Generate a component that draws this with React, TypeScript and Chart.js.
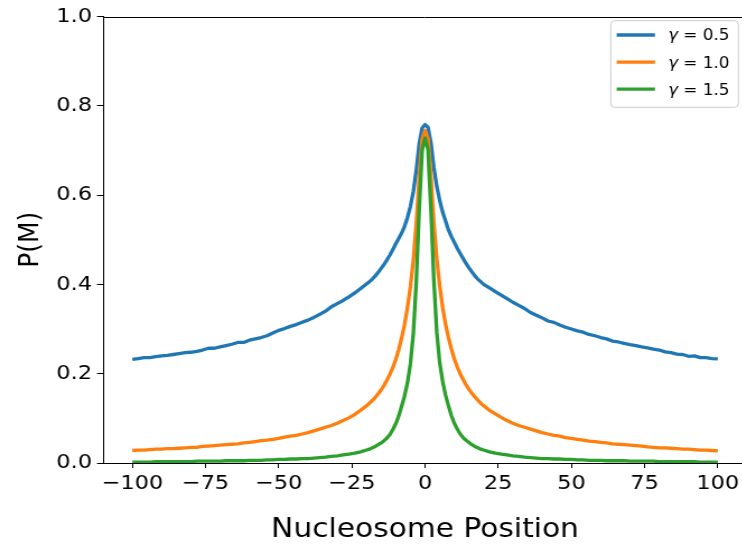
import React, { useEffect, useRef } from 'react';
import { Chart, registerables } from 'chart.js';

Chart.register(...registerables);

// Nucleosome positions (x) at which each curve is sampled
const positions = [
  -100, -98, -96, -94, -92, -90, -88, -86, -84, -82, -80, -78, -76, -74, -72, -70, -68, -66, -64, -62,
  -60, -58, -56, -54, -52, -50, -48, -46, -44, -42, -40, -38, -36, -34, -32, -30, -28, -26, -24, -22, -20,
  -19, -18, -17, -16, -15, -14, -13, -12, -11, -10, -9, -8, -7, -6, -5, -4, -3, -2, -1,
  0, 1, 2, 3, 4, 5, 6, 7, 8, 9, 10, 11, 12, 13, 14, 15, 16, 17, 18, 19,
  20, 22, 24, 26, 28, 30, 32, 34, 36, 38, 40, 42, 44, 46, 48, 50, 52, 54, 56, 58,
  60, 62, 64, 66, 68, 70, 72, 74, 76, 78, 80, 82, 84, 86, 88, 90, 92, 94, 96, 98, 100,
];

const gammaValues = [0.5, 1.0, 1.5];

// P(M), gamma = 0.5
const seriesGamma05 = [
  0.232, 0.234, 0.236, 0.236, 0.238, 0.240, 0.241, 0.243, 0.245, 0.247, 0.248, 0.250, 0.253, 0.257, 0.257, 0.260, 0.263, 0.266, 0.270, 0.270,
  0.275, 0.278, 0.281, 0.285, 0.291, 0.297, 0.301, 0.306, 0.310, 0.315, 0.320, 0.326, 0.333, 0.340, 0.350, 0.357, 0.364, 0.372, 0.381, 0.391, 0.401,
  0.406, 0.412, 0.419, 0.427, 0.436, 0.445, 0.455, 0.466, 0.478, 0.491, 0.503, 0.515, 0.530, 0.550, 0.575, 0.608, 0.655, 0.715, 0.750,
  0.758, 0.752, 0.718, 0.662, 0.620, 0.588, 0.562, 0.542, 0.522, 0.507, 0.494, 0.481, 0.469, 0.458, 0.447, 0.437, 0.428, 0.419, 0.412, 0.406,
  0.400, 0.392, 0.384, 0.376, 0.368, 0.360, 0.353, 0.346, 0.337, 0.331, 0.325, 0.318, 0.315, 0.309, 0.304, 0.300, 0.296, 0.293, 0.288, 0.285,
  0.281, 0.278, 0.273, 0.271, 0.268, 0.265, 0.263, 0.260, 0.258, 0.255, 0.253, 0.249, 0.247, 0.244, 0.243, 0.239, 0.240, 0.236, 0.236, 0.234, 0.233,
];

// P(M), gamma = 1.0
const seriesGamma10 = [
  0.028, 0.029, 0.029, 0.030, 0.031, 0.031, 0.032, 0.032, 0.033, 0.034, 0.035, 0.035, 0.037, 0.038, 0.039, 0.040, 0.041, 0.042, 0.043, 0.045,
  0.046, 0.048, 0.050, 0.051, 0.053, 0.055, 0.058, 0.060, 0.062, 0.065, 0.068, 0.072, 0.076, 0.080, 0.084, 0.089, 0.095, 0.101, 0.109, 0.118, 0.128,
  0.134, 0.140, 0.147, 0.155, 0.164, 0.174, 0.186, 0.199, 0.214, 0.232, 0.254, 0.280, 0.310, 0.348, 0.395, 0.455, 0.535, 0.640, 0.725,
  0.745, 0.727, 0.645, 0.538, 0.457, 0.397, 0.349, 0.311, 0.281, 0.255, 0.233, 0.215, 0.200, 0.187, 0.175, 0.165, 0.156, 0.148, 0.141, 0.134,
  0.128, 0.118, 0.110, 0.102, 0.095, 0.089, 0.084, 0.080, 0.076, 0.072, 0.068, 0.065, 0.062, 0.060, 0.057, 0.055, 0.053, 0.051, 0.049, 0.048,
  0.046, 0.045, 0.043, 0.042, 0.041, 0.040, 0.039, 0.038, 0.036, 0.035, 0.034, 0.034, 0.033, 0.032, 0.031, 0.031, 0.030, 0.029, 0.029, 0.028, 0.027,
];

// P(M), gamma = 1.5
const seriesGamma15 = [
  0.002, 0.002, 0.002, 0.002, 0.003, 0.003, 0.003, 0.003, 0.003, 0.003, 0.003, 0.004, 0.004, 0.004, 0.004, 0.004, 0.005, 0.005, 0.005, 0.005,
  0.006, 0.006, 0.006, 0.007, 0.007, 0.008, 0.008, 0.009, 0.009, 0.010, 0.010, 0.011, 0.012, 0.013, 0.015, 0.016, 0.018, 0.020, 0.022, 0.025, 0.029,
  0.031, 0.034, 0.037, 0.041, 0.045, 0.050, 0.056, 0.064, 0.075, 0.088, 0.105, 0.127, 0.150, 0.180, 0.222, 0.290, 0.405, 0.565, 0.700,
  0.728, 0.702, 0.568, 0.410, 0.293, 0.225, 0.183, 0.152, 0.128, 0.106, 0.089, 0.076, 0.065, 0.057, 0.051, 0.046, 0.041, 0.037, 0.034, 0.031,
  0.029, 0.025, 0.022, 0.020, 0.018, 0.016, 0.015, 0.013, 0.012, 0.011, 0.010, 0.010, 0.009, 0.009, 0.008, 0.008, 0.007, 0.007, 0.006, 0.006,
  0.006, 0.005, 0.005, 0.005, 0.005, 0.004, 0.004, 0.004, 0.004, 0.004, 0.003, 0.003, 0.003, 0.003, 0.003, 0.003, 0.003, 0.002, 0.002, 0.002, 0.002,
];

const xTickValues = [-100, -75, -50, -25, 0, 25, 50, 75, 100];
const yTickValues = [0.0, 0.2, 0.4, 0.6, 0.8, 1.0];
const seriesColors = ['#1f77b4', '#ff7f0e', '#2ca02c'];

const FONT = "'DejaVu Sans', sans-serif";
const SX = 1.12; // horizontal stretch of the reference figure
const LOGICAL_W = 680;
const H = 547;

const framePlugin = {
  id: 'frame',
  afterDraw(chart: any) {
    const { ctx, chartArea } = chart;
    ctx.save();
    ctx.strokeStyle = '#000';
    ctx.lineWidth = 1;
    ctx.beginPath();
    const t = Math.round(chartArea.top) + 0.5;
    ctx.moveTo(chartArea.left, t);
    ctx.lineTo(chartArea.right, t);
    const r = Math.round(chartArea.right) + 0.5;
    ctx.moveTo(r, chartArea.top);
    ctx.lineTo(r, chartArea.bottom);
    ctx.stroke();
    ctx.restore();
  },
};

const legendPlugin = {
  id: 'boxLegend',
  afterDraw(chart: any) {
    const { ctx } = chart;
    const bx = 545.3, by = 20.7, bw = 113.9, bh = 86.6, rad = 3.5;
    ctx.save();
    ctx.beginPath();
    ctx.moveTo(bx + rad, by);
    ctx.lineTo(bx + bw - rad, by);
    ctx.arcTo(bx + bw, by, bx + bw, by + rad, rad);
    ctx.lineTo(bx + bw, by + bh - rad);
    ctx.arcTo(bx + bw, by + bh, bx + bw - rad, by + bh, rad);
    ctx.lineTo(bx + rad, by + bh);
    ctx.arcTo(bx, by + bh, bx, by + bh - rad, rad);
    ctx.lineTo(bx, by + rad);
    ctx.arcTo(bx, by, bx + rad, by, rad);
    ctx.closePath();
    ctx.fillStyle = 'rgba(255,255,255,0.85)';
    ctx.fill();
    ctx.strokeStyle = '#cccccc';
    ctx.lineWidth = 1;
    ctx.stroke();

    chart.data.datasets.forEach((ds: any, i: number) => {
      const y = 35 + 27.1 * i;
      ctx.strokeStyle = ds.borderColor;
      ctx.lineWidth = 3.3;
      ctx.beginPath();
      ctx.moveTo(550.6, y);
      ctx.lineTo(584.8, y);
      ctx.stroke();

      const label: string = ds.label;
      const sym = label.charAt(0);
      const rest = label.slice(1);
      ctx.fillStyle = '#000';
      ctx.textBaseline = 'alphabetic';
      ctx.textAlign = 'left';
      ctx.font = `italic 15px ${FONT}`;
      const tx = 596.4;
      ctx.fillText(sym, tx, y + 5.4);
      const w = ctx.measureText(sym).width;
      ctx.font = `15px ${FONT}`;
      ctx.fillText(rest, tx + w, y + 5.4);
    });
    ctx.restore();
  },
};

function fmtX(v: number): string {
  return v < 0 ? '\u2212' + Math.abs(v) : String(v);
}

export default function App() {
  const ref = useRef<HTMLCanvasElement>(null);

  useEffect(() => {
    if (!ref.current) return;
    const series = [seriesGamma05, seriesGamma10, seriesGamma15];
    const chart = new Chart(ref.current, {
      type: 'line',
      data: {
        datasets: series.map((s, i) => ({
          label: `\u03b3 = ${gammaValues[i].toFixed(1)}`,
          data: positions.map((x, j) => ({ x, y: s[j] })),
          borderColor: seriesColors[i],
          backgroundColor: seriesColors[i],
          borderWidth: 3.3,
          borderJoinStyle: 'round',
          pointRadius: 0,
          pointHoverRadius: 0,
          tension: 0,
          fill: false,
          order: 3 - i,
        })),
      },
      options: {
        animation: false,
        responsive: false,
        devicePixelRatio: 1,
        layout: { padding: { left: 0, right: 13, top: 15, bottom: 0 } },
        plugins: {
          legend: { display: false },
          tooltip: { enabled: false },
        },
        scales: {
          x: {
            type: 'linear',
            min: -110,
            max: 110,
            afterBuildTicks: (scale: any) => {
              scale.ticks = xTickValues.map((v) => ({ value: v }));
            },
            afterFit: (scale: any) => {
              scale.height = 84;
            },
            grid: {
              drawOnChartArea: false,
              drawTicks: true,
              tickLength: 5,
              color: '#000',
              lineWidth: 1,
            },
            border: { display: true, color: '#000', width: 1 },
            ticks: {
              color: '#000',
              font: { family: FONT, size: 20 },
              padding: 4,
              maxRotation: 0,
              autoSkip: false,
              callback: (v: any) => fmtX(Number(v)),
            },
            title: {
              display: true,
              text: 'Nucleosome Position',
              color: '#000',
              font: { family: FONT, size: 26.5 },
              padding: { top: 0, bottom: 1 },
            },
          },
          y: {
            type: 'linear',
            min: 0,
            max: 1,
            afterBuildTicks: (scale: any) => {
              scale.ticks = yTickValues.map((v) => ({ value: v }));
            },
            afterFit: (scale: any) => {
              scale.width = 92;
            },
            grid: {
              drawOnChartArea: false,
              drawTicks: true,
              tickLength: 5.4,
              color: '#000',
              lineWidth: 1,
            },
            border: { display: true, color: '#000', width: 1 },
            ticks: {
              color: '#000',
              font: { family: FONT, size: 20 },
              padding: 4.5,
              callback: (v: any) => Number(v).toFixed(1),
            },
            title: {
              display: true,
              text: 'P(M)',
              color: '#000',
              font: { family: FONT, size: 25 },
              padding: { top: 12, bottom: 0 },
            },
          },
        },
      },
      plugins: [framePlugin, legendPlugin],
    } as any);
    return () => chart.destroy();
  }, []);

  return (
    <div
      style={{
        position: 'fixed',
        left: 0,
        top: 0,
        width: 742,
        height: 547,
        overflow: 'hidden',
        background: '#fff',
      }}
    >
      <div style={{ width: LOGICAL_W, height: H, transform: `scaleX(${SX})`, transformOrigin: '0 0' }}>
        <canvas ref={ref} width={LOGICAL_W} height={H} style={{ display: 'block', width: LOGICAL_W, height: H }} />
      </div>
    </div>
  );
}
